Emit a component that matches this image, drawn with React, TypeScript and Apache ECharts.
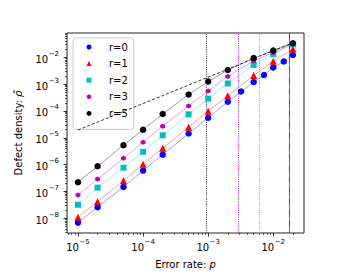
import React, { useEffect, useRef } from "react";
import * as echarts from "echarts";

// error rates
const pMain = [1e-5, 2e-5, 5e-5, 1e-4, 2e-4, 5e-4, 1e-3, 2e-3, 5e-3, 1e-2, 2e-2];
const pR0 = [1e-5, 2e-5, 5e-5, 1e-4, 2e-4, 5e-4, 1e-3, 2e-3, 3.2e-3, 5e-3, 7.2e-3, 1e-2, 1.45e-2, 2e-2];
// defect densities
const r0 = [6.9e-9, 2.6e-8, 1.48e-7, 6.0e-7, 2.36e-6, 1.44e-5, 5.6e-5, 2.2e-4, 5.3e-4, 1.2e-3, 2.2e-3, 4.2e-3, 7.0e-3, 1.22e-2];
const r1 = [1.1e-8, 4.2e-8, 2.5e-7, 1.03e-6, 4.1e-6, 2.5e-5, 9.8e-5, 3.7e-4, 2.1e-3, 7.1e-3, 2.02e-2];
const r2 = [3.2e-8, 1.39e-7, 7.7e-7, 3.0e-6, 1.24e-5, 7.5e-5, 2.9e-4, 1.06e-3, 5.2e-3, 1.33e-2, 3.0e-2];
const r3 = [7.4e-8, 2.9e-7, 1.73e-6, 6.8e-6, 2.7e-5, 1.54e-4, 5.6e-4, 1.93e-3, 7.3e-3, 1.49e-2, 3.3e-2];
const r5 = [2.2e-7, 8.7e-7, 5.3e-6, 2.0e-5, 7.7e-5, 4.1e-4, 1.25e-3, 3.35e-3, 9.3e-3, 1.79e-2, 3.35e-2];
// dashed reference line
const refP = [1e-5, 2e-2];
const refRho = [1.95e-5, 3.5e-2];
// thresholds (vertical dotted lines)
const thresholds = [9.4e-4, 2.86e-3, 6.2e-3, 1.79e-2, 1.79e-2];
const thresholdColors = ["#444444", "#d030d0", "#40d8d8", "#ff1010", "#3030ff"];
// axis ranges (log10)
const xRange = [-5.169, -1.528];
const yRange = [-8.548, -1.094];
const xMajor = [-5, -4, -3, -2];
const yMajor = [-8, -7, -6, -5, -4, -3, -2];

const seriesNames = ["r=0", "r=1", "r=2", "r=3", "r=5"];
const seriesColors = ["#0000ff", "#ff0000", "#00bfbf", "#bf00bf", "#000000"];
const hexagon = "path://M0,-1L0.866,-0.5L0.866,0.5L0,1L-0.866,0.5L-0.866,-0.5Z";
const seriesSymbols = ["circle", "triangle", "rect", hexagon, "circle"];
const seriesSizes = [6.5, 7, 6, 5, 6.5];

function minorTicks(lo: number, hi: number): number[] {
  const out: number[] = [];
  for (let d = Math.floor(lo) - 1; d <= Math.ceil(hi); d++) {
    for (let k = 2; k <= 9; k++) {
      const v = d + Math.log10(k);
      if (v >= lo && v <= hi) out.push(v);
    }
  }
  return out;
}

const L = Math.log10;
const FONT = "DejaVu Sans";

function powLabel(v: number): string {
  const e = Math.round(v);
  return `{b|10}{s|${e < 0 ? "\u2212" : ""}${Math.abs(e)}}`;
}

const richLabel = {
  b: { fontSize: 10, fontFamily: FONT, color: "#000", lineHeight: 14, verticalAlign: "bottom" },
  s: { fontSize: 7, fontFamily: FONT, color: "#000", lineHeight: 14, verticalAlign: "top", padding: [0, 0, 0, 0.5] },
};

export default function App() {
  const ref = useRef<HTMLDivElement>(null);
  useEffect(() => {
    if (!ref.current) return;
    const chart = echarts.init(ref.current, null, { renderer: "svg" });
    const allY = [r0, r1, r2, r3, r5];
    const series: any[] = allY.map((ys, i) => {
      const xs = i === 0 ? pR0 : pMain;
      return {
        name: seriesNames[i],
        type: "line",
        xAxisIndex: 0,
        yAxisIndex: 0,
        data: xs.map((p, j) => [L(p), L(ys[j])]),
        symbol: seriesSymbols[i],
        symbolSize: seriesSizes[i],
        showSymbol: true,
        itemStyle: { color: seriesColors[i], opacity: 1 },
        lineStyle: { color: seriesColors[i], width: 0.7, opacity: 0.55 },
        z: 5,
      };
    });
    series.push({
      name: "ref",
      type: "line",
      xAxisIndex: 0,
      yAxisIndex: 0,
      data: refP.map((p, j) => [L(p), L(refRho[j])]),
      symbol: "none",
      lineStyle: { color: "#000", width: 0.8, type: [3, 2] },
      z: 4,
      markLine: {
        silent: true,
        symbol: "none",
        label: { show: false },
        data: thresholds.map((t, i) => ({
          xAxis: L(t),
          lineStyle: {
            color: thresholdColors[i],
            width: 1.1,
            type: [1.1, 1.1],
            dashOffset: i === 4 ? 1.1 : 0,
          },
        })),
      },
    });

    const baseX = {
      type: "value",
      gridIndex: 0,
      position: "bottom",
      min: xRange[0],
      max: xRange[1],
      axisLine: { show: false },
      splitLine: { show: false },
    };
    const baseY = {
      type: "value",
      gridIndex: 0,
      position: "left",
      min: yRange[0],
      max: yRange[1],
      axisLine: { show: false },
      splitLine: { show: false },
    };

    chart.setOption({
      animation: false,
      grid: {
        left: 67,
        right: 34,
        top: 33,
        bottom: 42,
        show: true,
        borderColor: "#222",
        borderWidth: 1,
        backgroundColor: "transparent",
      },
      legend: {
        orient: "vertical",
        left: 73,
        top: 38,
        padding: [3, 6, 10, 13.5],
        itemGap: 4.6,
        itemWidth: 5,
        itemHeight: 5,
        backgroundColor: "rgba(255,255,255,0.85)",
        borderColor: "#cccccc",
        borderWidth: 1,
        borderRadius: 3,
        textStyle: { fontFamily: FONT, fontSize: 10, color: "#000", lineHeight: 12, padding: [0, 0, 0, 12.5] },
        data: seriesNames.map((n, i) => ({
          name: n,
          icon: seriesSymbols[i],
          itemStyle: { color: seriesColors[i] },
        })),
      },
      xAxis: [
        {
          ...baseX,
          name: "Error rate: {i|p}",
          nameLocation: "middle",
          nameGap: 26,
          nameTextStyle: {
            fontFamily: FONT,
            fontSize: 10,
            color: "#000",
            rich: { i: { fontFamily: FONT, fontStyle: "italic", fontSize: 10, color: "#000" } },
          },
          axisTick: { show: true, customValues: xMajor, length: 3.5, lineStyle: { color: "#000", width: 0.8 } },
          axisLabel: {
            show: true,
            customValues: xMajor,
            margin: 5,
            formatter: (v: number) => powLabel(v),
            rich: richLabel,
          },
        },
        {
          ...baseX,
          axisTick: { show: true, customValues: minorTicks(xRange[0], xRange[1]), length: 2, lineStyle: { color: "#000", width: 0.6 } },
          axisLabel: { show: false },
        },
      ],
      yAxis: [
        {
          ...baseY,
          name: "Defect density: {i|\u03C1\u0303}",
          nameLocation: "middle",
          nameGap: 44,
          nameRotate: 90,
          nameTextStyle: {
            fontFamily: FONT,
            fontSize: 10,
            color: "#000",
            rich: { i: { fontFamily: FONT, fontStyle: "italic", fontSize: 10, color: "#000" } },
          },
          axisTick: { show: true, customValues: yMajor, length: 3.5, lineStyle: { color: "#000", width: 0.8 } },
          axisLabel: {
            show: true,
            customValues: yMajor,
            margin: 8,
            formatter: (v: number) => powLabel(v),
            rich: richLabel,
          },
        },
        {
          ...baseY,
          axisTick: { show: true, customValues: minorTicks(yRange[0], yRange[1]), length: 2, lineStyle: { color: "#000", width: 0.6 } },
          axisLabel: { show: false },
        },
      ],
      series,
    });
    return () => chart.dispose();
  }, []);
  return <div ref={ref} style={{ width: 338, height: 275, position: "absolute", left: 0, top: 0 }} />;
}
